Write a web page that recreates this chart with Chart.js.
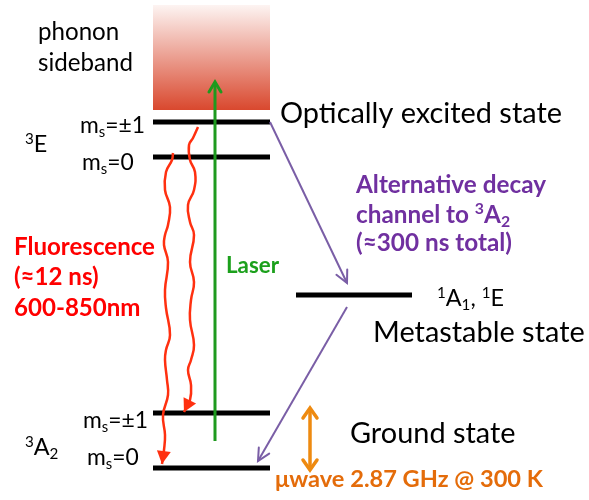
<!DOCTYPE html>
<html>
<head>
<meta charset="utf-8">
<title>NV centre energy levels</title>
<script src="https://cdn.jsdelivr.net/npm/chart.js@4.4.0/dist/chart.umd.min.js"></script>
<style>
    html, body { margin: 0; padding: 0; background: #fff; }
    #chrtLevels { display: block; }
</style>
</head>
<body>
<canvas id="chrtLevels" width="589" height="500"></canvas>
<script>
// energy levels (arbitrary units, higher = more energy)
const levelNames = ["3E ms=±1", "3E ms=0", "1A1, 1E", "3A2 ms=±1", "3A2 ms=0"],
    levelEnergy = [378, 343, 205, 87, 32],
    levelFrom = [153, 153, 296, 153, 153],
    levelTo = [270, 270, 412, 270, 270];

// phonon sideband band
const sidebandX = [153, 270],
    sidebandTop = 495,
    sidebandBottom = 390;

// laser excitation
const laserX = [215, 215],
    laserY = [59, 418];

// fluorescence
const fluorAX = [198, 193, 189, 190, 195, 194, 188, 190, 194, 190, 194, 191, 190, 194, 191, 188, 191, 190, 184],
    fluorAY = [373, 362, 355, 340, 328, 310, 295, 278, 265, 238, 218, 200, 180, 155, 140, 130, 115, 100, 88];
const fluorBX = [173, 172, 166, 165, 170, 168, 165, 164, 168, 165, 166, 170, 166, 165, 167, 168, 163, 165, 164, 162],
    fluorBY = [347, 340, 328, 310, 293, 275, 265, 255, 238, 210, 192, 165, 150, 140, 120, 105, 85, 65, 50, 36];

// intersystem crossing via singlet
const iscInX = [270, 347],
    iscInY = [378, 217],
    iscOutX = [347, 258],
    iscOutY = [193, 39];

// microwave transition
const mwX = [310, 310],
    mwY = [30, 92];

const FONT = "Lato, 'Open Sans', sans-serif";

// text: x, y = baseline in chart units, w = width to fit the group font to
const textLabels = [
    { t: "sideband", x: 38, y: 429, g: "top", w: 95 },
    { t: "phonon", x: 38, y: 460, g: "top" },
    { t: "m_{s}=±1", x: 80, y: 367, g: "ms", w: 65 },
    { t: "m_{s}=0", x: 82, y: 330, g: "ms" },
    { t: "m_{s}=±1", x: 83, y: 72, g: "ms" },
    { t: "m_{s}=0", x: 87, y: 35, g: "ms" },
    { t: "^{1}A_{1}, ^{1}E", x: 437, y: 194, g: "term", w: 67 },
    { t: "^{3}E", x: 25, y: 348, g: "term" },
    { t: "^{3}A_{2}", x: 25, y: 45, g: "term" },
    { t: "Optically excited state", x: 280, y: 377, g: "big", w: 282 },
    { t: "Metastable state", x: 373, y: 158, g: "big" },
    { t: "Ground state", x: 350, y: 57, g: "big" },
    { t: "Alternative decay", x: 356, y: 307, g: "isc", w: 190, bold: true, c: "#7030a0" },
    { t: "channel to ^{3}A_{2}", x: 356, y: 277, g: "isc", bold: true, c: "#7030a0" },
    { t: "(≈300 ns total)", x: 356, y: 249, g: "isc", bold: true, c: "#7030a0" },
    { t: "Fluorescence", x: 14, y: 245, g: "fl", w: 141, bold: true, c: "#ff0000" },
    { t: "(≈12 ns)", x: 14, y: 215, g: "fl", bold: true, c: "#ff0000" },
    { t: "600-850nm", x: 14, y: 184, g: "fl", bold: true, c: "#ff0000" },
    { t: "Laser", x: 226, y: 227, g: "laser", w: 53, bold: true, c: "#1ca01c" },
    { t: "μwave 2.87 GHz @ 300 K", x: 275, y: 13, g: "mw", w: 268, bold: true, c: "#e46c0a" }
];

function pts(xs, ys) {
    return xs.map((x, i) => ({ x: x, y: ys[i] }));
}

function parseRich(s) {
    const out = [];
    const re = /([\^_])\{([^}]*)\}|([^\^_]+)/g;
    let m;
    while ((m = re.exec(s))) {
        if (m[3]) out.push({ t: m[3], k: 0 });
        else out.push({ t: m[2], k: m[1] == "^" ? 1 : -1 });
    }
    return out;
}

function segFont(lbl, size, k) {
    let sz = k ? size * 0.65 : size;
    return (lbl.bold ? "bold " : "") + sz.toFixed(2) + "px " + FONT;
}

function richWidth(ctx, lbl, size) {
    let w = 0;
    for (let s of parseRich(lbl.t)) {
        ctx.font = segFont(lbl, size, s.k);
        w += ctx.measureText(s.t).width;
    }
    return w;
}

function drawHead(ctx, from, to, head) {
    const a = Math.atan2(to.y - from.y, to.x - from.x);
    const bx = to.x - head.len * Math.cos(a),
        by = to.y - head.len * Math.sin(a);
    ctx.beginPath();
    ctx.moveTo(bx + head.half * Math.sin(a), by - head.half * Math.cos(a));
    ctx.lineTo(to.x, to.y);
    ctx.lineTo(bx - head.half * Math.sin(a), by + head.half * Math.cos(a));
    if (head.filled) {
        ctx.closePath();
        ctx.fill();
    } else {
        ctx.stroke();
    }
}

const arrowPlugin = {
    id: "arrows",
    afterDatasetsDraw(chart) {
        const ctx = chart.ctx;
        chart.data.datasets.forEach((ds, i) => {
            if (!ds.head) return;
            const p = chart.getDatasetMeta(i).data;
            ctx.save();
            ctx.strokeStyle = ds.borderColor;
            ctx.fillStyle = ds.borderColor;
            ctx.lineWidth = ds.head.lw || ds.borderWidth;
            ctx.lineCap = "round";
            ctx.lineJoin = "miter";
            drawHead(ctx, p[p.length - 2], p[p.length - 1], ds.head);
            if (ds.head.both) drawHead(ctx, p[1], p[0], ds.head);
            ctx.restore();
        });
    }
};

const textPlugin = {
    id: "texts",
    afterDraw(chart) {
        const ctx = chart.ctx,
            sx = chart.scales.x,
            sy = chart.scales.y;
        const groupSize = {};
        ctx.save();
        for (let lbl of textLabels) {
            if (lbl.w) groupSize[lbl.g] = 20 * lbl.w / richWidth(ctx, lbl, 20);
        }
        ctx.textBaseline = "alphabetic";
        ctx.textAlign = "left";
        for (let lbl of textLabels) {
            const size = groupSize[lbl.g];
            let x = sx.getPixelForValue(lbl.x);
            const y = sy.getPixelForValue(lbl.y);
            ctx.fillStyle = lbl.c || "#000";
            for (let s of parseRich(lbl.t)) {
                ctx.font = segFont(lbl, size, s.k);
                const dy = s.k == 1 ? -size * 0.36 : s.k == -1 ? size * 0.17 : 0;
                ctx.fillText(s.t, x, y + dy);
                x += ctx.measureText(s.t).width;
            }
        }
        ctx.restore();
    }
};

const datasets = [];

datasets.push({
    label: "phonon sideband",
    data: pts(sidebandX, [sidebandTop, sidebandTop]),
    borderWidth: 0,
    fill: { target: { value: sidebandBottom } },
    backgroundColor: (c) => {
        const chart = c.chart;
        if (!chart.chartArea) return "#e88";
        const y0 = chart.scales.y.getPixelForValue(sidebandTop),
            y1 = chart.scales.y.getPixelForValue(sidebandBottom);
        const g = chart.ctx.createLinearGradient(0, y0, 0, y1);
        g.addColorStop(0, "#fdf4f2");
        g.addColorStop(1, "#d9482e");
        return g;
    },
    order: 10
});

levelEnergy.forEach((e, i) => {
    datasets.push({
        label: levelNames[i],
        data: pts([levelFrom[i], levelTo[i]], [e, e]),
        borderColor: "#000",
        borderWidth: 5,
        order: 5
    });
});

datasets.push({
    label: "Laser",
    data: pts(laserX, laserY),
    borderColor: "#1e9a1e",
    borderWidth: 3,
    head: { len: 10, half: 6 },
    order: 1
});
datasets.push({
    label: "Fluorescence to ms=±1",
    data: pts(fluorAX, fluorAY),
    borderColor: "#ff3010",
    borderWidth: 2.5,
    tension: 0.45,
    head: { len: 13, half: 7, filled: true },
    order: 1
});
datasets.push({
    label: "Fluorescence to ms=0",
    data: pts(fluorBX, fluorBY),
    borderColor: "#ff3010",
    borderWidth: 2.5,
    tension: 0.45,
    head: { len: 13, half: 7, filled: true },
    order: 1
});
datasets.push({
    label: "ISC in",
    data: pts(iscInX, iscInY),
    borderColor: "#7a5ea6",
    borderWidth: 2,
    head: { len: 12, half: 6 },
    order: 1
});
datasets.push({
    label: "ISC out",
    data: pts(iscOutX, iscOutY),
    borderColor: "#7a5ea6",
    borderWidth: 2,
    head: { len: 12, half: 6 },
    order: 1
});
datasets.push({
    label: "microwave",
    data: pts(mwX, mwY),
    borderColor: "#ee8a10",
    borderWidth: 3.5,
    head: { len: 10, half: 7, both: true },
    order: 1
});

new Chart(document.getElementById("chrtLevels"), {
    type: "scatter",
    data: { datasets: datasets },
    options: {
        responsive: false,
        animation: false,
        events: [],
        showLine: true,
        elements: { point: { radius: 0 } },
        layout: { padding: 0 },
        plugins: { legend: { display: false }, tooltip: { enabled: false } },
        scales: {
            x: { type: "linear", min: 0, max: 589, display: false },
            y: { type: "linear", min: 0, max: 500, display: false }
        }
    },
    plugins: [arrowPlugin, textPlugin]
});
</script>
</body>
</html>
